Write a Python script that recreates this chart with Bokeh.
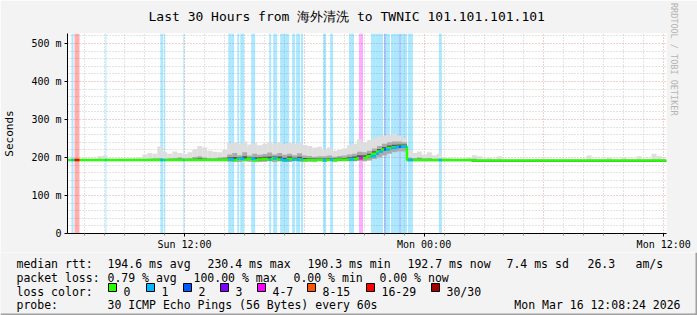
import pandas as pd
from bokeh.plotting import figure
from bokeh.layouts import column
from bokeh.models import (Range1d, FixedTicker, DatetimeTickFormatter, Title,
                          ColumnDataSource)
from bokeh.core.properties import value
from bokeh.embed import file_html
from bokeh.resources import INLINE

# ---------------- data ----------------
TITLE = "Last 30 Hours from 海外清洗 to TWNIC 101.101.101.101"
WINDOW_START = "2026-03-15 06:08:24"
WINDOW_END = "2026-03-16 12:08:24"
SLOT_MINUTES = 15
Y_MAX_MS = 526.3

# median rtt per 15-minute slot (ms)
median_ms = ([193.5] * 32 +
             [195, 193, 197, 194, 197, 193, 195, 196, 194, 198, 195, 193, 196, 194, 195, 193, 194, 193, 194] +
             [193, 194, 193, 195, 194] +
             [195, 196, 198, 199, 203, 210, 216, 221, 225, 227, 228, 229] +
             [193.5] * 13 +
             [192] * 39)

# smoke: lowest ping, upper dense ping, highest ping per slot (ms)
smoke_lo = ([191] * 32 +
            [189, 190, 188, 190, 189, 190, 188, 189, 190, 188, 190, 189, 188, 190, 189, 190, 189, 190, 190] +
            [190] * 5 +
            [190, 190, 191, 190, 192, 196, 200, 205, 210, 214, 216, 216] +
            [190] * 13 +
            [189] * 39)
smoke_mid = ([194] * 13 +
             [195, 195, 196, 197, 198, 199, 197, 198, 199, 200, 198, 199, 201, 203, 200, 199, 199, 200, 201] +
             [208, 212, 206, 214, 205, 210, 207, 209, 213, 208, 212, 207, 210, 206, 211, 205, 204, 202, 203] +
             [203, 205, 202, 204, 205] +
             [208, 210, 215, 214, 218, 224, 230, 236, 240, 242, 242, 240] +
             [200, 199, 200, 198, 199, 196, 197, 195, 195, 194, 194, 194, 195] +
             [197] + [194] * 38)
smoke_hi = ([195, 195, 195, 195, 196, 197, 204, 205, 196, 196, 197, 197, 198, 199, 200, 208,
             212, 210, 229, 214, 210, 216, 212, 209, 214, 222, 230, 226, 218, 215, 214, 220] +
            [238, 240, 236, 242, 234, 238, 232, 236, 240, 237, 241, 235, 238, 236, 240, 233, 230, 226, 228] +
            [222, 226, 218, 220, 224] +
            [232, 236, 248, 240, 246, 252, 255, 258, 260, 262, 258, 252] +
            [220, 212, 216, 208, 214, 206, 210, 200, 198, 196, 195, 195, 200] +
            [206, 203, 197, 199, 196, 203] + [195] * 17 + [205] + [195] * 3 + [200] + [195] * 2 +
            [201] + [195] * 2 + [203] + [195] * 2 + [210, 204, 196])

# loss events: start (hours after window start), duration (minutes), pings lost of 30
loss_start_h = [0.20, 0.35, 1.90, 4.65, 4.85, 5.80, 8.05, 8.20, 8.50, 8.65, 9.20, 10.10,
                10.30, 10.40, 10.65, 10.80, 10.90, 11.25, 11.45, 11.70, 12.80, 13.15,
                14.10, 14.60, 15.20, 15.45, 15.60, 15.85, 15.95, 16.20, 16.45, 16.60,
                16.70, 17.05, 18.60]
loss_minutes = [6, 15, 3, 9, 3, 3, 9, 9, 6, 12, 12, 6,
                6, 6, 9, 6, 12, 9, 12, 6, 9, 9,
                15, 12, 15, 9, 12, 6, 12, 15, 9, 6,
                18, 15, 9]
loss_count = [1, 20, 1, 1, 1, 1, 1, 1, 1, 1, 1, 1,
              1, 1, 1, 1, 1, 1, 1, 1, 1, 1,
              1, 5, 1, 1, 1, 2, 1, 1, 1, 2,
              1, 1, 1]

loss_labels = ["0", "1", "2", "3", "4-7", "8-15", "16-29", "30/30"]
loss_colors = ["#26ff00", "#00b8ff", "#0059ff", "#7e00ff", "#ff00ff", "#ff5500", "#ff0000", "#a10000"]

y_tick_values = [0, 100, 200, 300, 400, 500]
y_tick_labels = ["0", "100 m", "200 m", "300 m", "400 m", "500 m"]
x_tick_times = ["2026-03-15 12:00", "2026-03-16 00:00", "2026-03-16 12:00"]

stats_rtt = ["median rtt:", "194.6 ms avg", "230.4 ms max", "190.3 ms min",
             "192.7 ms now", "7.4 ms sd", "26.3", "am/s"]
stats_loss = ["packet loss:", "0.79 % avg", "100.00 % max", "0.00 % min", "0.00 % now"]
probe_text = ["probe:", "30 ICMP Echo Pings (56 Bytes) every 60s"]
stamp_text = "Mon Mar 16 12:08:24 2026"
watermark = "RRDTOOL / TOBI OETIKER"

# ---------------- layout constants ----------------
FONT = "DejaVu Sans Mono"
x_rtt = [16, 107, 207, 307, 407, 506, 587, 635]
x_loss = [16, 107, 193, 293, 379]
x_probe = [16, 107]
x_legend_box = [108, 146, 183, 220, 257, 307, 366, 431]
row_y = [11, 25, 39, 52.5]        # baselines inside the legend strip
BG = "#f3f3f3"


def ms(ts):
    return pd.Timestamp(ts).value / 1e6


def cat(n):
    if n <= 3:
        return n
    if n <= 7:
        return 4
    if n <= 15:
        return 5
    if n <= 29:
        return 6
    return 7


t0 = pd.Timestamp(WINDOW_START)
t1 = pd.Timestamp(WINDOW_END)
n = len(median_ms)
slot_l = [ms(t0 + pd.Timedelta(minutes=SLOT_MINUTES * i)) for i in range(n)]
slot_r = [ms(t0 + pd.Timedelta(minutes=SLOT_MINUTES * (i + 1))) for i in range(n)]

p = figure(width=697, height=252, x_axis_type="datetime",
           x_range=Range1d(ms(t0), ms(t1)), y_range=Range1d(0, Y_MAX_MS),
           output_backend="svg", toolbar_location=None,
           min_border_left=66, min_border_right=31, min_border_top=33, min_border_bottom=19,
           background_fill_color="white", border_fill_color=BG,
           outline_line_color=None)

# title & watermark
p.title.text = TITLE
p.title.text_font = FONT
p.title.text_font_size = "13px"
p.title.text_font_style = "normal"
p.title.text_color = "#000000"
p.title.align = "left"
p.title.vertical_align = "top"
p.title.offset = 81
p.title.standoff = 15
p.add_layout(Title(text="|", text_font=FONT, text_font_size="10px", text_alpha=0,
                   standoff=0), "right")
p.add_layout(Title(text=watermark, text_font=FONT, text_font_size="8.5px",
                   text_font_style="normal", text_color="#b4b4b4", align="right",
                   vertical_align="top", standoff=0, offset=118), "right")

# grid
six_hourly = [ms(t) for t in pd.date_range("2026-03-15 12:00", "2026-03-16 12:00", freq="6h")]
hourly = [ms(t) for t in pd.date_range("2026-03-15 07:00", "2026-03-16 12:00", freq="1h")
          if ms(t) not in six_hourly]
p.xgrid.ticker = FixedTicker(ticks=six_hourly, minor_ticks=hourly)
p.ygrid.ticker = FixedTicker(ticks=y_tick_values,
                             minor_ticks=[v for v in range(20, 521, 20) if v % 100])
for g in (p.xgrid, p.ygrid):
    g.grid_line_color = "#e6a0a0"
    g.grid_line_dash = "1 2"
    g.grid_line_width = 1
    g.minor_grid_line_color = "#c8c8c8"
    g.minor_grid_line_dash = "1 2"
    g.minor_grid_line_width = 1

# axes
p.xaxis.ticker = FixedTicker(ticks=[ms(t) for t in x_tick_times], minor_ticks=hourly)
fmt = "%a %H:%M"
p.xaxis.formatter = DatetimeTickFormatter(microseconds=fmt, milliseconds=fmt, seconds=fmt,
                                          minsec=fmt, minutes=fmt, hourmin=fmt, hours=fmt,
                                          days=fmt, months=fmt, years=fmt)
p.yaxis.ticker = FixedTicker(ticks=y_tick_values)
p.yaxis.major_label_overrides = {v: s for v, s in zip(y_tick_values, y_tick_labels)}
p.yaxis.axis_label = "Seconds"
p.yaxis.axis_label_standoff = 12
p.yaxis.axis_label_text_font = FONT
p.yaxis.axis_label_text_font_size = "11px"
p.yaxis.axis_label_text_font_style = "normal"
p.yaxis.axis_label_text_color = "#000000"
for ax in (p.xaxis, p.yaxis):
    ax.axis_line_color = "#000000"
    ax.axis_line_width = 1
    ax.major_tick_in = 0
    ax.major_tick_out = 3
    ax.major_tick_line_color = "#000000"
    ax.minor_tick_in = 0
    ax.minor_tick_out = 2
    ax.minor_tick_line_color = "#909090"
    ax.major_label_text_font = FONT
    ax.major_label_text_font_size = "10px"
    ax.major_label_text_color = "#000000"
    ax.major_label_standoff = 3
p.yaxis.minor_tick_out = 0
p.xaxis.major_label_standoff = 2

# loss bands
band_src = ColumnDataSource(dict(
    left=[ms(t0 + pd.Timedelta(hours=h)) for h in loss_start_h],
    right=[ms(t0 + pd.Timedelta(hours=h) + pd.Timedelta(minutes=m)) for h, m in zip(loss_start_h, loss_minutes)],
    color=[loss_colors[cat(c)] for c in loss_count],
    mid=[median_ms[min(n - 1, int(h * 60 // SLOT_MINUTES))] for h in loss_start_h],
))
p.quad(left="left", right="right", bottom=0, top=Y_MAX_MS, source=band_src,
       fill_color="color", fill_alpha=0.32, line_color=None)

# smoke
dark_top = [m + (md - m) * 0.45 for m, md in zip(median_ms, smoke_mid)]
dark_bot = [max(lo, m - 3) for lo, m in zip(smoke_lo, median_ms)]
smoke = ColumnDataSource(dict(left=slot_l, right=slot_r, lo=smoke_lo, mid=smoke_mid, hi=smoke_hi,
                              dtop=dark_top, dbot=dark_bot))
p.quad(left="left", right="right", bottom="lo", top="hi", source=smoke,
       fill_color="#dedede", line_color=None)
p.quad(left="left", right="right", bottom="lo", top="mid", source=smoke,
       fill_color="#ababab", line_color=None)
p.quad(left="left", right="right", bottom="dbot", top="dtop", source=smoke,
       fill_color="#555555", line_color=None)

# median line (loss 0 colour), then loss-coloured pieces
p.step(x=slot_l + [ms(t1)], y=median_ms + [median_ms[-1]], mode="after",
       line_color=loss_colors[0], line_width=2.5)
p.segment(x0="left", x1="right", y0="mid", y1="mid", source=band_src,
          line_color="color", line_width=2.5)

# ---------------- legend strip ----------------
q = figure(width=697, height=63, x_range=Range1d(0, 697), y_range=Range1d(63, 0),
           output_backend="svg", toolbar_location=None, min_border=0,
           x_axis_location=None, y_axis_location=None,
           background_fill_color=BG, border_fill_color=BG, outline_line_color=None)
q.grid.visible = False
for fig in (p, q):
    try:
        fig.frame_align = False
    except Exception:
        pass

texts, xs, ys, aligns = [], [], [], []
for t, x in zip(stats_rtt, x_rtt):
    texts.append(t); xs.append(x); ys.append(row_y[0]); aligns.append("left")
for t, x in zip(stats_loss, x_loss):
    texts.append(t); xs.append(x); ys.append(row_y[1]); aligns.append("left")
texts.append("loss color:"); xs.append(16); ys.append(row_y[2]); aligns.append("left")
for t, bx in zip(loss_labels, x_legend_box):
    texts.append(t); xs.append(bx + 15); ys.append(row_y[2]); aligns.append("left")
for t, x in zip(probe_text, x_probe):
    texts.append(t); xs.append(x); ys.append(row_y[3]); aligns.append("left")
texts.append(stamp_text); xs.append(680); ys.append(row_y[3]); aligns.append("right")

q.text(x="x", y="y", text="text", text_align="align",
       source=ColumnDataSource(dict(x=xs, y=ys, text=texts, align=aligns)),
       text_font=value(FONT), text_font_size="11.5px", text_baseline="alphabetic",
       text_color="#000000")
q.quad(left=[bx for bx in x_legend_box], right=[bx + 8 for bx in x_legend_box],
       top=[row_y[2] - 8] * len(x_legend_box), bottom=[row_y[2]] * len(x_legend_box),
       fill_color=loss_colors, line_color="#000000", line_width=1)
# bottom and right edges of the image
q.quad(left=[0, 695], right=[697, 697], top=[61, 0], bottom=[63, 63],
       fill_color="#a0a0a0", line_color=None)

open("out.html", "w").write(file_html(column(p, q, spacing=0), INLINE))
